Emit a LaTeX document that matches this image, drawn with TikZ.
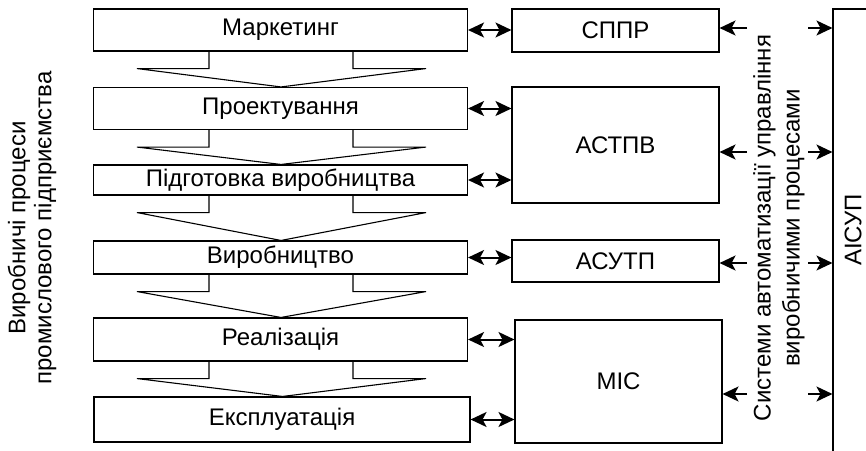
\documentclass[tikz,border=0pt]{standalone}
\usepackage{fontspec}
\setmainfont{Liberation Sans}
\usetikzlibrary{arrows.meta}
\begin{document}
\begin{tikzpicture}[x=1pt,y=-1pt,
  txt/.style={font=\fontsize{24}{26}\selectfont},
  box/.style={draw, line width=1.1pt, inner sep=0pt, txt},
  lbox/.style={box, minimum width=374pt},
  rbox/.style={box, minimum width=207pt},
  dbl/.style={line width=2pt, {Stealth[length=16pt,width=15pt,inset=4pt]}-{Stealth[length=16pt,width=15pt,inset=4pt]}},
  one/.style={line width=2pt, -{Stealth[length=16pt,width=15pt,inset=4pt]}},
  flow/.style={draw, line width=1.1pt, line join=miter}
]
\useasboundingbox (0,0) rectangle (866,450);

% left column
\node[lbox, minimum height=42pt] (m)  at (280.5,30)    {Маркетинг};
\node[lbox, minimum height=42pt] (p)  at (280.5,108.5) {Проектування};
\node[lbox, minimum height=30pt] (pv) at (280.5,180)   {Підготовка виробництва};
\node[lbox, minimum height=33pt] (v)  at (280.5,257.5) {Виробництво};
\node[lbox, minimum height=43pt] (r)  at (280.5,339.5) {Реалізація};
\node[box, minimum width=376pt, minimum height=45pt] (e) at (282,419.5) {Експлуатація};

% flow chevrons
\newcommand\flowarrow[2]{%
  \draw[flow] ([xshift=-71.5pt]#1.south) -- ++(0,17) -- ++(-72,0) -- ([xshift=0.5pt]#2.north)
    -- ([xshift=145.5pt,yshift=-17pt]#1.south) -- ++(-73,0) -- ++(0,-17);}
\flowarrow{m}{p}
\flowarrow{p}{pv}
\flowarrow{pv}{v}
\flowarrow{v}{r}
\flowarrow{r}{e}

% right column
\node[rbox, minimum height=43pt]  (s)  at (615.5,30.5) {СППР};
\node[rbox, minimum height=116pt] (a)  at (615.5,145)  {АСТПВ};
\node[rbox, minimum height=42pt]  (u)  at (615.5,261)  {АСУТП};
\node[rbox, minimum height=123pt] (mi) at (618.5,381.5) {МІС};

% double arrows
\draw[dbl] (m.east)  -- (m.east -| s.west);
\draw[dbl] (p.east)  -- (p.east -| a.west);
\draw[dbl] (pv.east) -- (pv.east -| a.west);
\draw[dbl] (v.east)  -- (v.east -| u.west);
\draw[dbl] (r.east)  -- (r.east -| mi.west);
\draw[dbl] (e.east)  -- (e.east -| mi.west);

% AISUP
\node[draw, line width=1.1pt, minimum width=67pt, minimum height=461pt, inner sep=0pt] (ais) at (866.5,239.5) {};
\node[txt, rotate=90] (aist) at (853,230) {АІСУП};

% middle text
\node[txt, rotate=90, align=center, font=\fontsize{24}{29}\selectfont] (mt) at (779,228)
  {Системи автоматизації управління\\виробничими процесами};

% left text
\node[txt, rotate=90, align=center] (lt) at (32,228)
  {Виробничі процеси\\промислового підприємства};

% arrows to/from the middle
\coordinate (l1) at (747,28);
\coordinate (l2) at (747,152);
\coordinate (l3) at (747,263);
\coordinate (l4) at (747,394);
\coordinate (q1) at (808,28);
\coordinate (q2) at (808,152);
\coordinate (q3) at (808,263);
\coordinate (q4) at (808,394);
\draw[one] (l1) -- (l1 -| s.east);
\draw[one] (l2) -- (l2 -| a.east);
\draw[one] (l3) -- (l3 -| u.east);
\draw[one] (l4) -- (l4 -| mi.east);
\draw[one] (q1) -- (q1 -| ais.west);
\draw[one] (q2) -- (q2 -| ais.west);
\draw[one] (q3) -- (q3 -| ais.west);
\draw[one] (q4) -- (q4 -| ais.west);
\end{tikzpicture}
\end{document}
